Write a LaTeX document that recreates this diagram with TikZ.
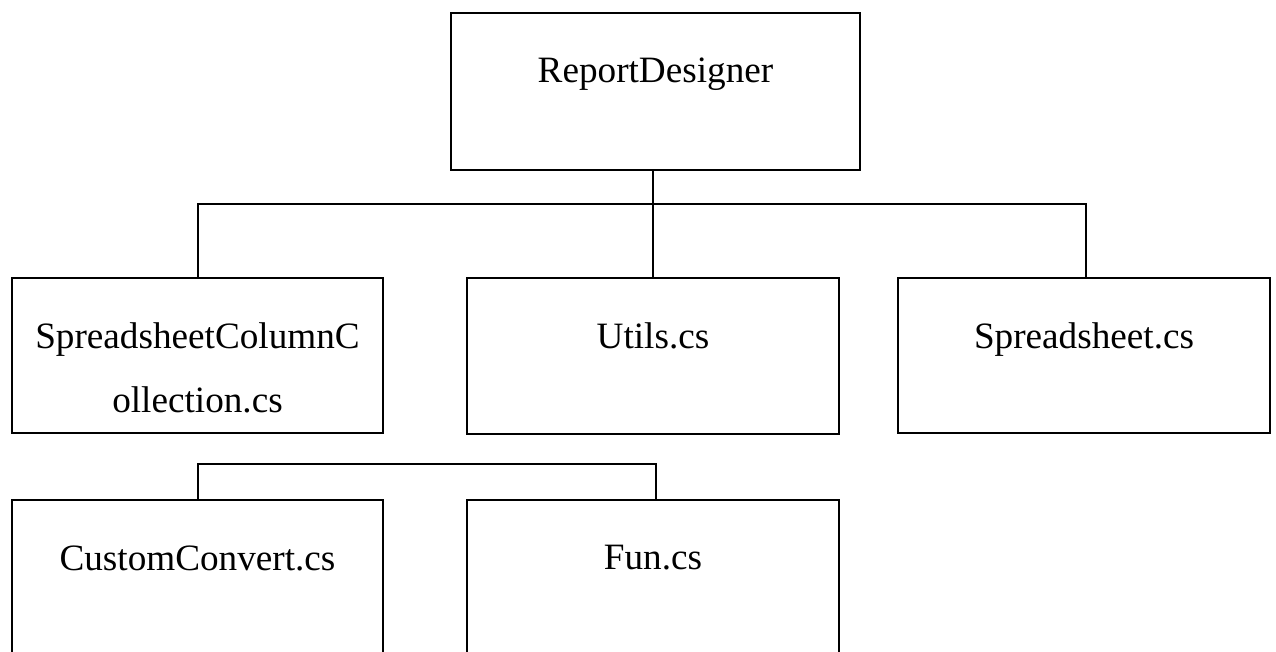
\documentclass[tikz,border=0pt]{standalone}
\usepackage{fontspec}
\setmainfont{Liberation Serif}
\begin{document}
\begin{tikzpicture}[x=1pt,y=-1pt,
  box/.style={draw=black,line width=2pt,rectangle,anchor=north west,inner sep=0pt},
  lbl/.style={anchor=base,inner sep=0pt,font=\fontsize{37.2}{64}\selectfont,align=center},
  wire/.style={draw=black,line width=2pt}]
  \useasboundingbox (0,0) rectangle (1276,652);
  \clip (0,0) rectangle (1276,652);
  % boxes
  \node[box,minimum width=409pt,minimum height=157pt] (rd) at (450,12) {};
  \node[box,minimum width=371pt,minimum height=155pt] (scc) at (11,277) {};
  \node[box,minimum width=372pt,minimum height=156pt] (ut) at (466,277) {};
  \node[box,minimum width=372pt,minimum height=155pt] (ss) at (897,277) {};
  \node[box,minimum width=371pt,minimum height=170pt] (cc) at (11,499) {};
  \node[box,minimum width=372pt,minimum height=170pt] (fn) at (466,499) {};
  % labels
  \node[lbl] (trd) at ([yshift=-71pt]rd.north) {ReportDesigner};
  \node[lbl] (tscc1) at ([yshift=-71pt]scc.north) {SpreadsheetColumnC};
  \node[lbl] (tscc2) at ([yshift=-135pt]scc.north) {ollection.cs};
  \node[lbl] (tut) at ([yshift=-71pt]ut.north) {Utils.cs};
  \node[lbl] (tss) at ([yshift=-71pt]ss.north) {Spreadsheet.cs};
  \node[lbl] (tcc) at ([yshift=-71pt]cc.north) {CustomConvert.cs};
  \node[lbl] (tfn) at ([yshift=-70pt]fn.north) {Fun.cs};
  % first level connectors
  \coordinate (j0) at (653,204);
  \coordinate (ja) at (198,204);
  \coordinate (jb) at (1086,204);
  \draw[wire] (rd.south -| j0) -- (j0);
  \draw[wire] (scc.north -| ja) -- (ja) -- (jb) -- (ss.north -| jb);
  \draw[wire] (j0) -- (ut.north -| j0);
  % second level connectors
  \coordinate (ka) at (198,464);
  \coordinate (kb) at (656,464);
  \draw[wire] (cc.north -| ka) -- (ka) -- (kb) -- (fn.north -| kb);
\end{tikzpicture}
\end{document}
